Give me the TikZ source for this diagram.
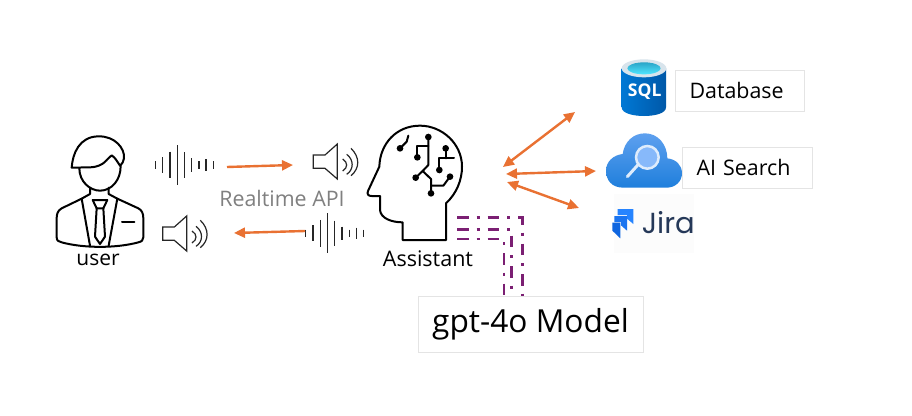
\documentclass[tikz,border=0pt]{standalone}
\usepackage{fontspec}
\setmainfont{Open Sans}
\newfontfamily\jirafont{Poppins}
\usetikzlibrary{arrows.meta}
\definecolor{orangeline}{HTML}{E97132}
\definecolor{purpleline}{HTML}{7B1F73}
\definecolor{boxline}{HTML}{E4E4E4}
\definecolor{jiratext}{HTML}{253858}
\definecolor{sqlleft}{HTML}{0078D4}
\definecolor{sqlright}{HTML}{0058A8}
\definecolor{sqltopa}{HTML}{2BA5C8}
\definecolor{sqltopb}{HTML}{50E6FF}
\definecolor{sqlrim}{HTML}{D8E4EC}
\definecolor{cloudtop}{HTML}{5EA0EF}
\definecolor{cloudbot}{HTML}{1F7FDC}
\definecolor{lenspale}{HTML}{DEECFC}
\definecolor{lensfill}{HTML}{87B9FA}
\definecolor{jiraa}{HTML}{2684FF}
\definecolor{jirab}{HTML}{1A74F0}
\definecolor{jirac}{HTML}{0F66E0}
\definecolor{jiraback}{HTML}{FCFCFC}
\tikzset{
  x=1pt,y=-1pt,
  oarrow/.style={draw=orangeline,line width=2.4pt,-{Triangle[length=11pt,width=10pt]}},
  odouble/.style={draw=orangeline,line width=2.4pt,{Triangle[length=11pt,width=10pt]}-{Triangle[length=11pt,width=10pt]}},
  plink/.style={draw=purpleline,line width=2.6pt,dash pattern=on 11.5pt off 8pt on 3pt off 8pt},
  labelbox/.style={draw=boxline,line width=1pt,minimum height=40.6pt,anchor=west,inner xsep=0pt,inner ysep=0pt,align=left,text=black,font=\fontsize{21.4}{25}\selectfont},
  iconline/.style={draw=black,line width=2pt,line join=round,line cap=round},
  wave/.style={draw=black!85,line width=1.3pt},
  thin speaker/.style={draw=black!85,line width=1.2pt,line join=miter},
  ptext/.style={font=\fontsize{21}{25}\selectfont,text=black,inner sep=0pt},
}
\newcommand{\wavebars}{%
  \foreach \px/\ph in {16/11,38/24,60/40,82/60,103/38,125/20,147/11,168/17,190/11}{
    \draw[wave] (\px,90-\ph) -- (\px,90+\ph);
  }}
\newcommand{\speakericon}{%
  \draw[thin speaker] (490,60) -- (525,60) -- (562,27) -- (562,132) -- (525,100) -- (490,100) -- cycle;
  \draw[thin speaker] (578,72) .. controls (594,82) and (594,98) .. (578,108);
  \draw[thin speaker] (590,58) .. controls (612,74) and (612,104) .. (590,118);
  \draw[thin speaker] (603,40) .. controls (630,66) and (630,100) .. (603,122);
}
\begin{document}
\begin{tikzpicture}
\useasboundingbox (0,0) rectangle (912,415);
\fill[white] (0,0) rectangle (912,415);

% named hubs for the connectors
\coordinate (waveAout) at (227,167);
\coordinate (speakerAin) at (293,165);
\coordinate (waveBout) at (305,231);
\coordinate (speakerBin) at (234,233);
\coordinate (hubA) at (503,167);
\coordinate (hubB) at (506,174);
\coordinate (hubC) at (507,182);
\coordinate (sqlIn) at (575,112);
\coordinate (searchIn) at (596,171);
\coordinate (jiraIn) at (579,208);
\coordinate (pa) at (457,217.7);
\coordinate (pb) at (457,229.3);
\coordinate (pc) at (457,239);
\coordinate (paEnd) at (522.7,296);
\coordinate (pbEnd) at (511.7,296);
\coordinate (pcEnd) at (504,296);

% person
\begin{scope}[shift={(40,120)},scale=1/3]
\draw[iconline,fill=white] (95,143) .. controls (98,100) and (118,50) .. (175,49)
  .. controls (225,48) and (255,85) .. (252,115) .. controls (251,125) and (246,132) .. (240,137)
  .. controls (232,125) and (225,112) .. (215,106) .. controls (200,115) and (195,140) .. (150,142) -- cycle;
\draw[iconline] (118,145) .. controls (118,185) and (150,212) .. (180,212) .. controls (215,212) and (243,180) .. (242,136);
\draw[iconline] (150,203) -- (150,222) -- (125,236) -- (65,265) .. controls (52,272) and (50,285) .. (50,295) -- (50,352)
  .. controls (50,362) and (56,365) .. (65,367) .. controls (130,385) and (230,385) .. (295,367)
  .. controls (305,365) and (310,360) .. (310,352) -- (310,295) .. controls (310,280) and (305,270) .. (295,265) -- (232,236) -- (206,222) -- (206,203);
\draw[iconline] (125,236) -- (150,377);
\draw[iconline] (232,236) -- (206,377);
\draw[iconline] (158,240) -- (202,240) -- (190,265) -- (170,265) -- cycle;
\draw[iconline] (170,265) -- (165,350) -- (180,372) -- (195,350) -- (190,265);
\draw[iconline] (246,306) -- (283,306);
\end{scope}
\node[ptext] (user) at (98,260) {user};

% waves and speakers
\begin{scope}[shift={(150,135)},scale=1/3]
\wavebars
\speakericon
\end{scope}
\begin{scope}[shift={(300.3,203.3)},scale=1/3]
\wavebars
\end{scope}
\begin{scope}[shift={(0,207)}]
\begin{scope}[scale=1/3]
\begin{scope}[shift={(-2,0)}]\speakericon\end{scope}
\end{scope}
\end{scope}

\draw[oarrow] (waveAout) -- (speakerAin);
\draw[oarrow] (waveBout) -- (speakerBin);
\node[font=\fontsize{21.4}{25}\selectfont,text=black!50!white,inner sep=0pt] (api) at (282,198) {Realtime API};

% assistant head
\begin{scope}[shift={(350,115)},scale=1/3]
\draw[iconline] (158,375) -- (288,375) -- (288,265) .. controls (320,235) and (336,195) .. (336,155)
  .. controls (336,85) and (275,32) .. (210,32) .. controls (140,32) and (90,85) .. (88,155)
  -- (54,228) .. controls (50,238) and (55,243) .. (65,243) -- (90,243) -- (90,285)
  .. controls (92,310) and (125,322) .. (158,322) -- cycle;
\draw[iconline] (175,62) -- (170,80) -- (150,100);
\draw[iconline] (235,66) -- (235,150) -- (218,168) -- (197,188);
\draw[iconline] (235,92) -- (202,92) -- (202,127);
\draw[iconline] (218,168) -- (243,192) -- (243,235);
\draw[iconline] (243,212) -- (280,212) -- (300,185);
\draw[iconline] (287,100) -- (287,130);
\draw[iconline] (312,130) -- (268,130) -- (268,165);
\foreach \dx/\dy in {150/100,235/66,202/127,197/188,243/235,300/185,287/100,268/165}{
  \fill[black] (\dx,\dy) circle (10);
}
\end{scope}
\node[font=\fontsize{21.5}{25}\selectfont,text=black,inner sep=0pt] (assistant) at (428,258.5) {Assistant};

% model
\node[draw=boxline,line width=1pt,minimum width=225pt,minimum height=56pt,inner sep=0pt,text=black,font=\fontsize{31.7}{36}\selectfont] (model) at (530.5,324) {gpt-4o Model};
\draw[plink] (pa) -| (paEnd);
\draw[plink] (pb) -| (pbEnd);
\draw[plink] (pc) -| (pcEnd);

% connectors to tools
\draw[odouble] (hubA) -- (sqlIn);
\draw[odouble] (hubB) -- (searchIn);
\draw[odouble] (hubC) -- (jiraIn);

% SQL
\begin{scope}[shift={(590,50)},scale=1/3]
\shade[left color=sqlleft,right color=sqlright]
  (95,55) -- (95,172) .. controls (95,190) and (130,198) .. (162,198) .. controls (195,198) and (228,190) .. (228,172) -- (228,55) -- cycle;
\fill[sqlrim] (162,55) ellipse (67 and 27);
\shade[top color=sqltopa,bottom color=sqltopb] (162,55) ellipse (50 and 18);
\node[text=white,inner sep=0pt,font=\fontsize{17.5}{20}\bfseries\selectfont] (sqltext) at (164,125) {SQL};
\end{scope}
\node[labelbox,text width=129pt] (database) at (675.3,91) {\hspace*{13.7pt}\raisebox{1.5pt}{Database}};

% AI search cloud
\begin{scope}[shift={(590,50)},scale=1/3]
\shade[top color=cloudtop,bottom color=cloudbot] (100,413) .. controls (65,413) and (48,390) .. (48,362)
  .. controls (48,335) and (70,315) .. (98,312) .. controls (103,275) and (130,250) .. (165,250)
  .. controls (205,250) and (232,285) .. (232,325) .. controls (258,328) and (276,345) .. (276,370)
  .. controls (276,395) and (255,413) .. (230,413) -- cycle;
\draw[draw=lenspale,line width=3pt,line cap=round] (146,342) -- (112,380);
\draw[draw=lenspale,line width=2.5pt,fill=lensfill] (172,322) circle (34);
\end{scope}
\node[labelbox,text width=130pt] (aisearch) at (682.3,168) {\hspace*{13.7pt}\raisebox{1.5pt}{AI Search}};

% Jira
\fill[jiraback] (614,194) rectangle (694,253);
\begin{scope}[shift={(605,200)},scale=1/3]
\fill[jiraa] (38,27) -- (85,27) -- (85,72) -- (66,56) -- (66,45) -- (38,45) -- cycle;
\fill[jirab] (28,48) -- (66,48) -- (66,92) -- (48,76) -- (48,66) -- (28,66) -- cycle;
\fill[jirac] (22,68) -- (46,68) -- (46,115) -- (22,92) -- cycle;
\node[text=jiratext,inner sep=0pt,anchor=base west,font=\jirafont\fontsize{29}{32}\selectfont] (jira) at (110,100) {Jira};
\end{scope}
\end{tikzpicture}
\end{document}
